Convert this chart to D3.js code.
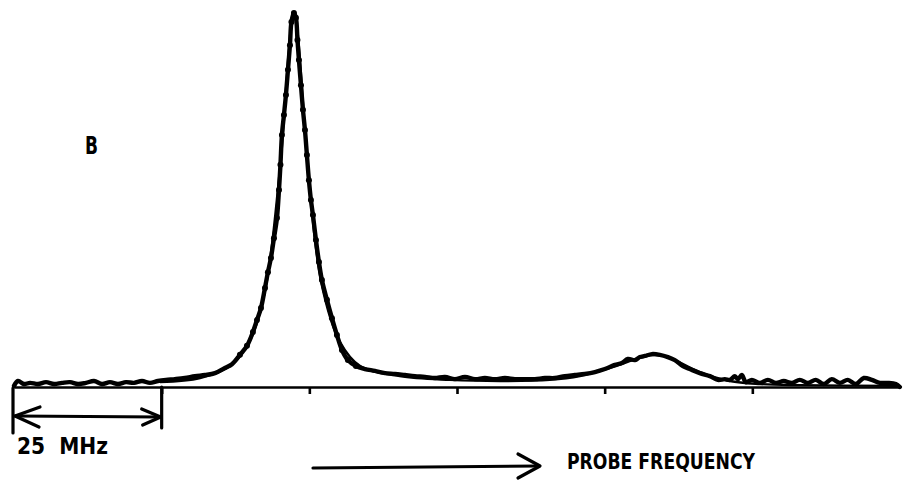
<!DOCTYPE html>
<html>
<head>
<meta charset="utf-8">
<script src="https://cdn.jsdelivr.net/npm/d3@7"></script>
<style>
  html, body { margin: 0; padding: 0; background: #fff; }
  svg { display: block; }
  text { font-family: "DejaVu Sans Condensed", "Liberation Sans Narrow", sans-serif; font-weight: bold; fill: #000; }
</style>
</head>
<body>
<svg id="chart" width="914" height="489"></svg>
<script>
// Probe frequency offset (MHz) of each trace sample
const freq = [0, 0.68, 1.69, 2.71, 4.06, 5.42, 6.77, 8.12, 9.48, 10.83, 12.19, 13.54, 14.9, 16.25, 17.6, 18.96, 20.31, 21.67, 23.02, 24.37,
  25.73, 27.25, 28.94, 30.64, 32.33, 34.02, 35.71, 36.9, 38.25, 39.44, 40.45, 41.13, 41.81, 42.49, 42.99, 43.5, 44.01, 44.52, 44.86, 45.11,
  45.36, 45.7, 46.04, 46.38, 46.72, 46.97, 47.39, 47.73, 47.99, 48.24, 48.58, 48.92, 49.26, 49.59, 49.93, 50.27, 50.61, 51.12, 51.63, 52.13,
  52.98, 53.83, 54.67, 55.52, 56.53, 57.89, 59.41, 61.1, 62.8, 64.49, 66.18, 67.87, 69.57, 71.26, 72.95, 74.64, 76.34, 78.03, 79.72, 81.42,
  83.11, 84.8, 86.49, 88.19, 89.88, 91.57, 93.26, 94.96, 96.65, 98.34, 100.03, 101.73, 102.91, 103.93, 105.12, 105.96, 106.81, 107.99, 109.34, 110.7,
  111.88, 113.24, 114.42, 116.11, 117.81, 119.16, 120.35, 121.19, 122.04, 122.55, 123.22, 123.9, 124.92, 126.27, 127.63, 128.98, 130.33, 131.69, 133.04, 134.39,
  135.75, 137.1, 138.45, 139.81, 141.16, 142.52, 143.87, 145.23, 146.58, 147.93, 149.29, 149.97];
// Measured signal (arbitrary units, main peak = 100)
const signal = [0.3, 1.6, 0.8, 1.1, 0.8, 1.3, 0.8, 1.1, 1.3, 0.8, 1.1, 1.6, 0.8, 1.3, 0.8, 1.3, 1.1, 1.6, 1.1, 1.6,
  1.9, 2.1, 2.4, 2.9, 3.2, 3.7, 5.1, 6.1, 8.6, 11.0, 14.7, 17.9, 21.1, 26.5, 30.7, 34.5, 39.8, 45.2, 52.7, 59.4,
  67.4, 72.7, 78.1, 84.8, 91.4, 97.6, 100, 98.7, 92.8, 87.4, 80.7, 74.1, 68.7, 62.0, 55.3, 50.0, 46.0, 39.3, 33.4, 28.6,
  23.3, 18.4, 13.9, 9.9, 7.2, 5.6, 4.8, 4.3, 3.7, 3.5, 3.2, 2.9, 2.7, 2.4, 2.7, 2.1, 2.7, 2.1, 2.4, 2.1,
  2.4, 2.1, 2.1, 2.1, 2.4, 2.4, 2.9, 3.2, 3.5, 4.0, 4.8, 5.9, 6.4, 7.5, 7.2, 8.0, 8.3, 8.8, 8.6, 8.0,
  7.2, 5.6, 4.8, 3.7, 2.9, 1.9, 2.1, 1.9, 2.9, 2.1, 3.2, 1.3, 1.9, 1.1, 1.9, 1.1, 1.6, 1.1, 1.9, 1.1,
  1.9, 0.8, 2.1, 1.1, 1.9, 0.8, 2.4, 1.9, 1.1, 1.1, 0.8, 0];
// Smooth fitted curve
const fitFreq = [24.7, 31.5, 36.6, 39.9, 42.5, 45.0, 47.4, 49.8, 52.0, 55.2, 58.6, 65.3, 73.8, 82.3, 90.7, 95.8, 100.9, 106.0, 108.5, 111.0, 116.1, 121.2, 126.3, 133.0, 150.0];
const fitSignal = [1.3, 2.4, 5.6, 12.3, 25.7, 57.8, 100, 57.8, 28.1, 12.0, 5.6, 2.9, 1.9, 1.6, 1.9, 2.9, 5.1, 7.8, 8.6, 7.8, 4.0, 1.6, 0.8, 0.5, 0.3];
const axisTicks = [25, 50, 75, 100, 125];
const scaleMHz = 25;
const labels = { panel: "B", scale: "25  MHz", axis: "PROBE FREQUENCY" };

const svg = d3.select("#chart");
const x = d3.scaleLinear().domain([0, 150]).range([14, 900]);
const y = d3.scaleLinear().domain([0, 100]).range([387, 13]);

// baseline axis
const axisG = svg.append("g").attr("transform", `translate(0,${y(0)})`)
  .call(d3.axisBottom(x).tickValues(axisTicks).tickSize(7).tickFormat("").tickSizeOuter(0));
axisG.select(".domain").attr("stroke", "#000").attr("stroke-width", 2.6);
axisG.selectAll(".tick line").attr("stroke", "#000").attr("stroke-width", 2.6);

const pts = freq.map((f, i) => [f, signal[i]]);
const fitPts = fitFreq.map((f, i) => [f, fitSignal[i]]);

const line = d3.line().x(d => x(d[0])).y(d => y(d[1])).curve(d3.curveCatmullRom.alpha(0.5));

svg.append("path").datum(fitPts).attr("d", line)
  .attr("fill", "none").attr("stroke", "#000").attr("stroke-width", 2.4)
  .attr("stroke-linejoin", "round");

svg.append("path").datum(pts).attr("d", line)
  .attr("fill", "none").attr("stroke", "#000").attr("stroke-width", 4.4)
  .attr("stroke-linejoin", "round").attr("stroke-linecap", "round");

// data dots along the main resonance
svg.selectAll("circle.dot").data(pts.filter(d => d[0] > 38 && d[0] < 58))
  .enter().append("circle").attr("class", "dot")
  .attr("cx", d => x(d[0])).attr("cy", d => y(d[1])).attr("r", 3).attr("fill", "#000");

// 25 MHz scale bracket
const bx0 = x(0) - 1, bx1 = x(scaleMHz);
const by = 416;
const br = svg.append("g").attr("stroke", "#000").attr("stroke-width", 3.2).attr("fill", "none")
  .attr("stroke-linecap", "round").attr("stroke-linejoin", "round");
br.append("line").attr("x1", bx0).attr("y1", y(0) + 1).attr("x2", bx0).attr("y2", 433);
br.append("line").attr("x1", bx1).attr("y1", y(0)).attr("x2", bx1).attr("y2", 428);
br.append("line").attr("x1", bx0 + 2).attr("y1", by).attr("x2", bx1 - 2).attr("y2", by + 1);
br.append("path").attr("d", `M${bx0 + 27},${by - 9} L${bx0 + 2},${by} L${bx0 + 26},${by + 11}`);
br.append("path").attr("d", `M${bx1 - 20},${by - 7} L${bx1 - 1},${by + 1} L${bx1 - 19},${by + 9}`);

svg.append("text").attr("x", 17).attr("y", 454).attr("font-size", 23)
  .attr("textLength", 91).attr("lengthAdjust", "spacingAndGlyphs").style("white-space", "pre")
  .text(labels.scale);

// Probe frequency arrow
const ar = svg.append("g").attr("stroke", "#000").attr("stroke-width", 3.2).attr("fill", "none")
  .attr("stroke-linecap", "round").attr("stroke-linejoin", "round");
ar.append("line").attr("x1", 313).attr("y1", 468).attr("x2", 538).attr("y2", 466);
ar.append("path").attr("d", "M518,454 L540,466 L518,478");

svg.append("text").attr("x", 567).attr("y", 469).attr("font-size", 22)
  .attr("textLength", 188).attr("lengthAdjust", "spacingAndGlyphs")
  .text(labels.axis);

svg.append("text").attr("x", 85).attr("y", 154).attr("font-size", 25)
  .attr("textLength", 13).attr("lengthAdjust", "spacingAndGlyphs")
  .text(labels.panel);
</script>
</body>
</html>
